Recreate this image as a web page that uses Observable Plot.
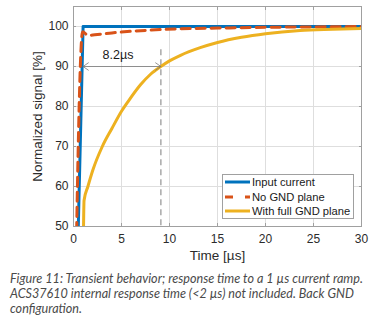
<!DOCTYPE html>
<html><head><meta charset="utf-8">
<script src="https://cdn.jsdelivr.net/npm/d3@7"></script>
<script src="https://cdn.jsdelivr.net/npm/@observablehq/plot@0.6"></script>
<style>
body{margin:0;background:#fff;}
#wrap{position:relative;width:392px;height:266px;}
#caption{font-family:Lato,"Open Sans",sans-serif;font-style:italic;color:#4a4a4a;font-size:12.6px;line-height:15px;margin:5px 0 0 10px;white-space:nowrap;}
#legend{position:absolute;left:222px;top:174px;}
</style></head><body>
<div id="wrap"><div id="chart"></div><svg id="legend" width="132" height="45"></svg></div>
<div id="caption"></div>
<script>
const xTicks = [0, 5, 10, 15, 20, 25, 30];
const yTicks = [50, 60, 70, 80, 90, 100];
const inputT = [0, 1, 30];
const inputV = [0, 100, 100];
const noGndT = [0, 0.95, 1.5, 2.5, 4, 6, 8, 11, 15, 20, 25, 30];
const noGndV = [0, 98.7, 97.8, 98.0, 98.4, 98.8, 99.1, 99.4, 99.6, 99.8, 99.9, 100];
const fullGndT = [1.0, 1.1, 1.5, 2, 3, 4, 5, 5.7, 7, 8, 9.1, 10, 11.15, 13.2, 15, 17.5, 20, 23.6, 27, 30];
const fullGndV = [40, 56.5, 60, 64, 70, 74.5, 78.8, 81.3, 85.5, 88, 90, 91.4, 92.8, 94.7, 96, 97.3, 98.2, 99, 99.3, 99.5];
const seriesNames = ["Input current", "No GND plane", "With full GND plane"];
const seriesColors = ["#0072BD", "#D95319", "#EDB120"];
const respStart = 1, respEnd = 9.1, respLevel = 90, respLabel = "8.2µs", markerTop = 94.2;
const xLabel = "Time [µs]", yLabel = "Normalized signal [%]";
const captionLines = [
  "Figure 11: Transient behavior; response time to a 1 µs current ramp.",
  "ACS37610 internal response time (<2 µs) not included. Back GND",
  "configuration."
];

const toRows = (T, V) => T.map((t, i) => ({t, v: V[i]}));
const inputRows = toRows(inputT, inputV);
const noGndRows = toRows(noGndT, noGndV);
const fullGndRows = toRows(fullGndT, fullGndV);
const mid = (respStart + respEnd) / 2;

const chart = Plot.plot({
  width: 392, height: 266,
  marginTop: 6, marginBottom: 40, marginLeft: 73, marginRight: 31,
  style: {fontFamily: "'Liberation Sans', Arial, sans-serif", fontSize: "12px", color: "#262626", background: "#fff"},
  x: {domain: [0, 30]},
  y: {domain: [50, 105]},
  marks: [
    Plot.gridX(xTicks, {stroke: "#dedede", strokeOpacity: 1}),
    Plot.gridY(yTicks, {stroke: "#dedede", strokeOpacity: 1}),
    Plot.axisX(xTicks, {anchor: "bottom", tickSize: 0, tickPadding: 8, fontSize: 12, label: null, fill: "#2b2b2b"}),
    Plot.axisY(yTicks, {anchor: "left", tickSize: 0, tickPadding: 5, fontSize: 12, label: null, fill: "#2b2b2b"}),
    Plot.axisX(xTicks, {anchor: "bottom", tickSize: -3, text: null, label: null, stroke: "#a0a0a0"}),
    Plot.axisX(xTicks, {anchor: "top", tickSize: -3, text: null, label: null, stroke: "#a0a0a0"}),
    Plot.axisY(yTicks, {anchor: "left", tickSize: -3, text: null, label: null, stroke: "#a0a0a0"}),
    Plot.axisY(yTicks, {anchor: "right", tickSize: -3, text: null, label: null, stroke: "#a0a0a0"}),
    Plot.frame({stroke: "#a0a0a0"}),
    Plot.text([xLabel], {frameAnchor: "bottom", textAnchor: "middle", lineAnchor: "middle", dy: 29, fontSize: 13.5, fill: "#2b2b2b"}),
    Plot.text([yLabel], {frameAnchor: "left", textAnchor: "middle", lineAnchor: "middle", rotate: -90, dx: -36, fontSize: 13.5, fill: "#2b2b2b"}),
    Plot.ruleX([respEnd], {y1: markerTop, y2: 50, stroke: "#a8a8a8", strokeWidth: 1.5, strokeDasharray: "6,4"}),
    Plot.line(inputRows, {x: "t", y: "v", stroke: seriesColors[0], strokeWidth: 3, clip: true}),
    Plot.line(noGndRows, {x: "t", y: "v", stroke: seriesColors[1], strokeWidth: 3, strokeDasharray: "9,6", curve: "monotone-x", clip: true}),
    Plot.line(fullGndRows, {x: "t", y: "v", stroke: seriesColors[2], strokeWidth: 3, curve: "monotone-x", clip: true}),
    Plot.arrow([{a: mid, b: respStart}, {a: mid, b: respEnd}], {x1: "a", x2: "b", y1: () => respLevel, y2: () => respLevel, stroke: "#7a7a7a", strokeWidth: 0.8, headLength: 12, headAngle: 70}),
    Plot.text([respLabel], {x: () => mid, y: () => respLevel, dy: -12, dx: -4, fontSize: 12.5, fill: "#1a1a1a"})
  ]
});
document.getElementById("chart").appendChild(chart);

// legend
const lg = d3.select("#legend");
lg.append("rect").attr("x", 0.5).attr("y", 0.5).attr("width", 131).attr("height", 44)
  .attr("fill", "#fff").attr("stroke", "#a0a0a0");
const rowsY = [8, 23, 37];
seriesNames.forEach((name, i) => {
  lg.append("line").attr("x1", 3).attr("x2", 28).attr("y1", rowsY[i]).attr("y2", rowsY[i])
    .attr("stroke", seriesColors[i]).attr("stroke-width", 3)
    .attr("stroke-dasharray", i === 1 ? "8,12" : null);
  lg.append("text").attr("x", 30).attr("y", rowsY[i]).attr("dy", "0.35em")
    .attr("font-family", "'Liberation Sans', Arial, sans-serif").attr("font-size", 11.2)
    .attr("fill", "#1a1a1a").text(name);
});

// caption
const cap = document.getElementById("caption");
cap.innerHTML = captionLines.map(s => s.replace(/</g, "&lt;")).join("<br>");
</script>
</body></html>
